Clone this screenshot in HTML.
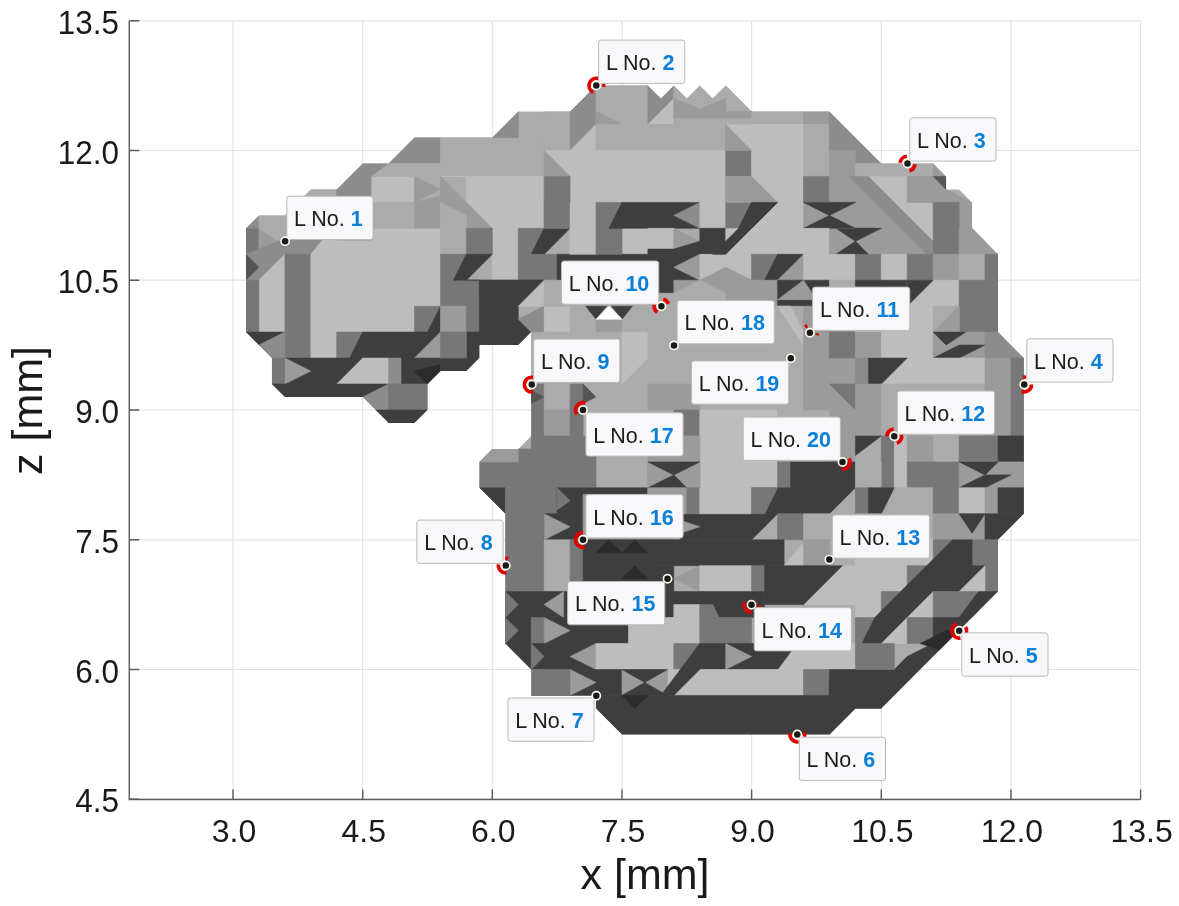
<!DOCTYPE html><html><head><meta charset="utf-8"><style>html,body{margin:0;padding:0;background:#fff}body{width:1179px;height:906px;overflow:hidden}svg{display:block}text{font-family:"Liberation Sans",Arial,Helvetica,sans-serif}</style></head><body>
<svg width="1179" height="906" viewBox="0 0 1179 906">
<rect width="1179" height="906" fill="#fff"/>
<path d="M233.0 20.8V799.5M362.7 20.8V799.5M492.3 20.8V799.5M622.0 20.8V799.5M751.6 20.8V799.5M881.3 20.8V799.5M1011.0 20.8V799.5M1140.6 20.8V799.5M129.3 799.2H1140.6M129.3 669.5H1140.6M129.3 539.8H1140.6M129.3 410.0H1140.6M129.3 280.2H1140.6M129.3 150.5H1140.6M129.3 20.8H1140.6" stroke="#e3e3e3" stroke-width="1.2" fill="none"/>
<defs><clipPath id="bc"><polygon points="246.0,228.3 258.9,215.4 284.9,215.4 310.8,189.4 336.7,189.4 362.7,163.5 388.6,163.5 414.5,137.5 492.3,137.5 518.3,111.6 570.1,111.6 596.0,85.6 647.9,85.6 660.9,98.6 673.8,85.6 686.8,98.6 699.8,85.6 712.7,98.6 725.7,85.6 751.6,111.6 829.4,111.6 881.3,163.5 933.2,163.5 946.1,176.4 946.1,189.4 959.1,189.4 972.1,202.4 972.1,228.3 998.0,254.3 998.0,332.1 1023.9,358.1 1023.9,513.8 998.0,539.8 998.0,591.6 881.3,708.4 855.4,708.4 829.4,734.4 622.0,734.4 596.0,708.4 596.0,695.4 531.2,695.4 531.2,669.5 505.3,643.5 505.3,513.8 479.4,487.8 479.4,461.9 492.3,448.9 518.3,448.9 531.2,435.9 531.2,332.1 518.3,345.1 479.4,345.1 479.4,358.1 466.4,371.1 440.5,371.1 427.5,384.0 427.5,410.0 414.5,423.0 388.6,423.0 362.7,397.0 284.9,397.0 271.9,384.0 271.9,358.1 246.0,332.1"/></clipPath></defs>
<g stroke-width="0.6" stroke-linejoin="round" clip-path="url(#bc)">
<polygon points="246.0,228.3 258.9,215.4 284.9,215.4 310.8,189.4 336.7,189.4 362.7,163.5 388.6,163.5 414.5,137.5 492.3,137.5 518.3,111.6 570.1,111.6 596.0,85.6 647.9,85.6 660.9,98.6 673.8,85.6 686.8,98.6 699.8,85.6 712.7,98.6 725.7,85.6 751.6,111.6 829.4,111.6 881.3,163.5 933.2,163.5 946.1,176.4 946.1,189.4 959.1,189.4 972.1,202.4 972.1,228.3 998.0,254.3 998.0,332.1 1023.9,358.1 1023.9,513.8 998.0,539.8 998.0,591.6 881.3,708.4 855.4,708.4 829.4,734.4 622.0,734.4 596.0,708.4 596.0,695.4 531.2,695.4 531.2,669.5 505.3,643.5 505.3,513.8 479.4,487.8 479.4,461.9 492.3,448.9 518.3,448.9 531.2,435.9 531.2,332.1 518.3,345.1 479.4,345.1 479.4,358.1 466.4,371.1 440.5,371.1 427.5,384.0 427.5,410.0 414.5,423.0 388.6,423.0 362.7,397.0 284.9,397.0 271.9,384.0 271.9,358.1 246.0,332.1" fill="#ababab" stroke="#ababab"/>
<polygon points="246.0,228.3 258.9,228.3 258.9,254.3 246.0,254.3" fill="#777777" stroke="#777777"/>
<polygon points="258.9,228.3 258.9,254.3 278.4,241.3" fill="#9b9b9b" stroke="#9b9b9b"/>
<polygon points="246.0,228.3 258.9,215.4 258.9,228.3" fill="#8c8c8c" stroke="#8c8c8c"/>
<polygon points="258.9,228.3 258.9,215.4 284.9,215.4 284.9,237.4 278.4,241.3" fill="#ababab" stroke="#ababab"/>
<polygon points="246.0,254.3 278.4,241.3 284.9,237.4 322.5,240.0 310.8,254.3 284.9,254.3 258.9,280.2 246.0,280.2" fill="#8c8c8c" stroke="#8c8c8c"/>
<polygon points="246.0,254.3 258.9,267.3 246.0,280.2" fill="#555555" stroke="#555555"/>
<polygon points="258.9,280.2 284.9,254.3 284.9,332.1 258.9,332.1" fill="#bdbdbd" stroke="#bdbdbd"/>
<polygon points="284.9,254.3 310.8,254.3 310.8,358.1 284.9,358.1" fill="#777777" stroke="#777777"/>
<polygon points="246.0,280.2 258.9,280.2 258.9,332.1 246.0,332.1" fill="#777777" stroke="#777777"/>
<polygon points="310.8,254.3 322.5,240.0 371.7,240.0 371.7,228.3 440.5,228.3 440.5,306.2 414.5,306.2 414.5,332.1 310.8,332.1" fill="#bdbdbd" stroke="#bdbdbd"/>
<polygon points="284.9,215.4 310.8,189.4 336.7,189.4 362.7,194.6 284.9,194.6" fill="#ababab" stroke="#ababab"/>
<polygon points="336.7,189.4 362.7,163.5 388.6,163.5 371.7,180.3 371.7,240.0 336.7,240.0" fill="#8c8c8c" stroke="#8c8c8c"/>
<polygon points="371.7,176.4 414.5,176.4 414.5,202.4 371.7,202.4" fill="#bdbdbd" stroke="#bdbdbd"/>
<polygon points="371.7,202.4 414.5,202.4 414.5,228.3 371.7,228.3" fill="#ababab" stroke="#ababab"/>
<polygon points="414.5,176.4 440.5,176.4 440.5,202.4 414.5,202.4" fill="#ababab" stroke="#ababab"/>
<polygon points="414.5,176.4 440.5,189.4 414.5,202.4" fill="#9b9b9b" stroke="#9b9b9b"/>
<polygon points="414.5,202.4 440.5,195.9 440.5,228.3 414.5,228.3" fill="#9b9b9b" stroke="#9b9b9b"/>
<polygon points="388.6,163.5 414.5,137.5 440.5,137.5 440.5,163.5" fill="#8c8c8c" stroke="#8c8c8c"/>
<polygon points="388.6,163.5 440.5,163.5 440.5,176.4 371.7,176.4" fill="#ababab" stroke="#ababab"/>
<polygon points="440.5,137.5 544.2,137.5 544.2,176.4 440.5,176.4" fill="#ababab" stroke="#ababab"/>
<polygon points="440.5,176.4 544.2,176.4 544.2,228.3 518.3,228.3 518.3,280.2 492.3,280.2 492.3,228.3 466.4,228.3 466.4,176.4" fill="#bdbdbd" stroke="#bdbdbd"/>
<polygon points="440.5,176.4 492.3,228.3 466.4,228.3 466.4,215.4 440.5,202.4" fill="#9b9b9b" stroke="#9b9b9b"/>
<polygon points="440.5,202.4 466.4,215.4 466.4,254.3 440.5,254.3" fill="#ababab" stroke="#ababab"/>
<polygon points="466.4,228.3 492.3,228.3 492.3,254.3 466.4,254.3" fill="#777777" stroke="#777777"/>
<polygon points="518.3,228.3 544.2,228.3 544.2,254.3 518.3,254.3" fill="#777777" stroke="#777777"/>
<polygon points="531.2,254.3 544.2,228.3 570.1,228.3 544.2,254.3" fill="#3e3e3e" stroke="#3e3e3e"/>
<polygon points="544.2,176.4 570.1,176.4 570.1,228.3 544.2,228.3" fill="#777777" stroke="#777777"/>
<polygon points="544.2,150.5 570.1,176.4 544.2,176.4" fill="#9b9b9b" stroke="#9b9b9b"/>
<polygon points="570.1,137.5 647.9,137.5 647.9,202.4 596.0,202.4 596.0,254.3 570.1,254.3" fill="#bdbdbd" stroke="#bdbdbd"/>
<polygon points="596.0,202.4 622.0,202.4 622.0,254.3 596.0,254.3" fill="#777777" stroke="#777777"/>
<polygon points="609.0,228.3 622.0,202.4 647.9,202.4 647.9,228.3" fill="#3e3e3e" stroke="#3e3e3e"/>
<polygon points="622.0,228.3 647.9,228.3 647.9,254.3 622.0,254.3" fill="#bdbdbd" stroke="#bdbdbd"/>
<polygon points="440.5,254.3 466.4,254.3 466.4,306.2 440.5,306.2" fill="#777777" stroke="#777777"/>
<polygon points="492.3,254.3 518.3,254.3 518.3,280.2 492.3,280.2" fill="#bdbdbd" stroke="#bdbdbd"/>
<polygon points="453.4,280.2 466.4,254.3 492.3,254.3 466.4,280.2" fill="#3e3e3e" stroke="#3e3e3e"/>
<polygon points="518.3,254.3 557.1,254.3 557.1,280.2 518.3,280.2" fill="#777777" stroke="#777777"/>
<polygon points="557.1,254.3 647.9,254.3 647.9,280.2 557.1,280.2" fill="#3e3e3e" stroke="#3e3e3e"/>
<polygon points="466.4,280.2 544.2,280.2 518.3,306.2 485.8,306.2" fill="#3e3e3e" stroke="#3e3e3e"/>
<polygon points="544.2,111.6 570.1,111.6 570.1,150.5 544.2,150.5" fill="#ababab" stroke="#ababab"/>
<polygon points="570.1,111.6 596.0,85.6 596.0,124.5 570.1,150.5" fill="#8c8c8c" stroke="#8c8c8c"/>
<polygon points="570.1,150.5 596.0,124.5 596.0,150.5" fill="#bdbdbd" stroke="#bdbdbd"/>
<polygon points="596.0,85.6 647.9,85.6 647.9,150.5 596.0,150.5" fill="#ababab" stroke="#ababab"/>
<polygon points="596.0,111.6 622.0,124.5 622.0,137.5 596.0,124.5" fill="#9b9b9b" stroke="#9b9b9b"/>
<polygon points="647.9,85.6 660.9,98.6 673.8,85.6 673.8,98.6 673.8,124.5 647.9,124.5" fill="#8c8c8c" stroke="#8c8c8c"/>
<polygon points="647.9,124.5 673.8,98.6 673.8,124.5" fill="#bdbdbd" stroke="#bdbdbd"/>
<polygon points="673.8,85.6 686.8,98.6 699.8,85.6 712.7,98.6 725.7,85.6 751.6,111.6 751.6,124.5 673.8,124.5" fill="#ababab" stroke="#ababab"/>
<polygon points="673.8,98.6 699.8,109.0 725.7,98.6 725.7,111.6 751.6,111.6 751.6,118.1 673.8,118.1" fill="#9b9b9b" stroke="#9b9b9b"/>
<polygon points="596.0,124.5 751.6,124.5 751.6,150.5 596.0,150.5" fill="#ababab" stroke="#ababab"/>
<polygon points="544.2,150.5 725.7,150.5 725.7,202.4 544.2,202.4" fill="#bdbdbd" stroke="#bdbdbd"/>
<polygon points="544.2,150.5 570.1,176.4 544.2,176.4" fill="#9b9b9b" stroke="#9b9b9b"/>
<polygon points="544.2,176.4 570.1,176.4 570.1,228.3 544.2,228.3" fill="#777777" stroke="#777777"/>
<polygon points="492.3,137.5 518.3,111.6 518.3,137.5" fill="#8c8c8c" stroke="#8c8c8c"/>
<polygon points="570.1,202.4 596.0,202.4 596.0,254.3 570.1,254.3" fill="#bdbdbd" stroke="#bdbdbd"/>
<polygon points="596.0,202.4 622.0,202.4 622.0,254.3 596.0,254.3" fill="#777777" stroke="#777777"/>
<polygon points="609.0,228.3 622.0,202.4 699.8,202.4 699.8,228.3" fill="#3e3e3e" stroke="#3e3e3e"/>
<polygon points="673.8,215.4 699.8,202.4 699.8,228.3" fill="#8c8c8c" stroke="#8c8c8c"/>
<polygon points="699.8,202.4 725.7,202.4 725.7,228.3 699.8,228.3" fill="#bdbdbd" stroke="#bdbdbd"/>
<polygon points="725.7,124.5 751.6,124.5 751.6,150.5 725.7,150.5" fill="#9b9b9b" stroke="#9b9b9b"/>
<polygon points="725.7,150.5 751.6,150.5 751.6,176.4 725.7,176.4" fill="#777777" stroke="#777777"/>
<polygon points="725.7,176.4 751.6,176.4 777.6,202.4 725.7,202.4" fill="#9b9b9b" stroke="#9b9b9b"/>
<polygon points="725.7,202.4 751.6,202.4 751.6,228.3 725.7,228.3" fill="#777777" stroke="#777777"/>
<polygon points="751.6,111.6 803.5,111.6 803.5,124.5 751.6,124.5" fill="#ababab" stroke="#ababab"/>
<polygon points="803.5,111.6 829.4,111.6 829.4,124.5 803.5,124.5" fill="#9b9b9b" stroke="#9b9b9b"/>
<polygon points="751.6,124.5 803.5,124.5 803.5,202.4 751.6,202.4" fill="#bdbdbd" stroke="#bdbdbd"/>
<polygon points="803.5,124.5 829.4,124.5 829.4,150.5 803.5,150.5" fill="#ababab" stroke="#ababab"/>
<polygon points="803.5,150.5 829.4,150.5 829.4,176.4 803.5,176.4" fill="#ababab" stroke="#ababab"/>
<polygon points="803.5,176.4 829.4,176.4 829.4,202.4 803.5,202.4" fill="#777777" stroke="#777777"/>
<polygon points="829.4,111.6 881.3,163.5 855.4,163.5 855.4,176.4 829.4,150.5" fill="#8c8c8c" stroke="#8c8c8c"/>
<polygon points="829.4,150.5 855.4,150.5 855.4,267.3 829.4,267.3" fill="#9b9b9b" stroke="#9b9b9b"/>
<polygon points="855.4,163.5 933.2,163.5 933.2,176.4 855.4,176.4" fill="#ababab" stroke="#ababab"/>
<polygon points="855.4,176.4 933.2,176.4 933.2,254.3 855.4,254.3" fill="#9b9b9b" stroke="#9b9b9b"/>
<polygon points="861.9,176.4 907.2,176.4 907.2,202.4 933.2,202.4 933.2,247.8" fill="#bdbdbd" stroke="#bdbdbd"/>
<polygon points="848.9,176.4 868.3,176.4 946.1,254.3 926.7,254.3" fill="#8c8c8c" stroke="#8c8c8c"/>
<polygon points="907.2,176.4 933.2,176.4 933.2,202.4 907.2,202.4" fill="#9b9b9b" stroke="#9b9b9b"/>
<polygon points="933.2,163.5 946.1,176.4 946.1,189.4 972.1,202.4 972.1,228.3 933.2,228.3" fill="#9b9b9b" stroke="#9b9b9b"/>
<polygon points="933.2,176.4 946.1,176.4 946.1,189.4" fill="#555555" stroke="#555555"/>
<polygon points="933.2,202.4 959.1,202.4 959.1,254.3 933.2,254.3" fill="#777777" stroke="#777777"/>
<polygon points="959.1,228.3 985.0,228.3 985.0,254.3 959.1,254.3" fill="#9b9b9b" stroke="#9b9b9b"/>
<polygon points="972.1,228.3 998.0,254.3 972.1,254.3" fill="#9b9b9b" stroke="#9b9b9b"/>
<polygon points="823.0,202.4 855.4,202.4 835.9,215.4" fill="#3e3e3e" stroke="#3e3e3e"/>
<polygon points="835.9,228.3 874.8,228.3 855.4,241.3" fill="#3e3e3e" stroke="#3e3e3e"/>
<polygon points="835.9,254.3 868.3,254.3 855.4,241.3" fill="#3e3e3e" stroke="#3e3e3e"/>
<polygon points="751.6,202.4 803.5,202.4 803.5,228.3 751.6,228.3" fill="#bdbdbd" stroke="#bdbdbd"/>
<polygon points="738.7,228.3 751.6,202.4 777.6,202.4 725.7,254.3 712.7,254.3" fill="#3e3e3e" stroke="#3e3e3e"/>
<polygon points="803.5,202.4 855.4,202.4 855.4,228.3 803.5,228.3" fill="#9b9b9b" stroke="#9b9b9b"/>
<polygon points="803.5,202.4 855.4,202.4 829.4,215.4" fill="#3e3e3e" stroke="#3e3e3e"/>
<polygon points="803.5,228.3 829.4,215.4 855.4,228.3" fill="#3e3e3e" stroke="#3e3e3e"/>
<polygon points="310.8,332.1 336.7,332.1 336.7,358.1 310.8,358.1" fill="#bdbdbd" stroke="#bdbdbd"/>
<polygon points="246.0,332.1 284.9,332.1 258.9,345.1" fill="#3e3e3e" stroke="#3e3e3e"/>
<polygon points="258.9,345.1 284.9,332.1 284.9,358.1 271.9,358.1" fill="#8c8c8c" stroke="#8c8c8c"/>
<polygon points="271.9,358.1 284.9,358.1 284.9,384.0 271.9,384.0" fill="#777777" stroke="#777777"/>
<polygon points="336.7,332.1 362.7,332.1 362.7,358.1 336.7,358.1" fill="#777777" stroke="#777777"/>
<polygon points="414.5,306.2 440.5,306.2 427.5,332.1 414.5,332.1" fill="#777777" stroke="#777777"/>
<polygon points="349.7,358.1 362.7,332.1 427.5,332.1 440.5,306.2 440.5,332.1 414.5,358.1" fill="#3e3e3e" stroke="#3e3e3e"/>
<polygon points="414.5,358.1 440.5,332.1 440.5,358.1" fill="#9b9b9b" stroke="#9b9b9b"/>
<polygon points="284.9,358.1 362.7,358.1 388.6,384.0 284.9,384.0" fill="#3e3e3e" stroke="#3e3e3e"/>
<polygon points="284.9,358.1 284.9,384.0 310.8,371.1" fill="#9b9b9b" stroke="#9b9b9b"/>
<polygon points="336.7,384.0 362.7,358.1 388.6,358.1 388.6,384.0" fill="#bdbdbd" stroke="#bdbdbd"/>
<polygon points="388.6,358.1 401.6,358.1 401.6,384.0 388.6,384.0" fill="#8c8c8c" stroke="#8c8c8c"/>
<polygon points="401.6,358.1 440.5,358.1 440.5,384.0 401.6,384.0" fill="#3e3e3e" stroke="#3e3e3e"/>
<polygon points="414.5,371.1 440.5,364.6 440.5,384.0 427.5,384.0" fill="#2c2c2c" stroke="#2c2c2c"/>
<polygon points="440.5,306.2 466.4,306.2 466.4,332.1 440.5,332.1" fill="#9b9b9b" stroke="#9b9b9b"/>
<polygon points="466.4,280.2 479.4,280.2 479.4,332.1 466.4,332.1" fill="#777777" stroke="#777777"/>
<polygon points="466.4,280.2 544.2,280.2 518.3,306.2 518.3,319.2 531.2,332.1 518.3,345.1 479.4,345.1 479.4,358.1 466.4,371.1 440.5,371.1 440.5,358.1 466.4,358.1 466.4,332.1 479.4,332.1 479.4,280.2" fill="#3e3e3e" stroke="#3e3e3e"/>
<polygon points="440.5,332.1 466.4,332.1 466.4,358.1 440.5,358.1" fill="#777777" stroke="#777777"/>
<polygon points="518.3,306.2 544.2,280.2 544.2,306.2" fill="#bdbdbd" stroke="#bdbdbd"/>
<polygon points="518.3,319.2 544.2,306.2 544.2,332.1 531.2,332.1" fill="#8c8c8c" stroke="#8c8c8c"/>
<polygon points="544.2,306.2 570.1,306.2 570.1,332.1 544.2,332.1" fill="#bdbdbd" stroke="#bdbdbd"/>
<polygon points="544.2,280.2 570.1,280.2 570.1,306.2 544.2,306.2" fill="#ababab" stroke="#ababab"/>
<polygon points="570.1,280.2 596.0,280.2 596.0,332.1 570.1,332.1" fill="#ababab" stroke="#ababab"/>
<polygon points="596.0,319.2 622.0,319.2 622.0,332.1 596.0,332.1" fill="#9b9b9b" stroke="#9b9b9b"/>
<polygon points="622.0,280.2 647.9,280.2 647.9,332.1 622.0,332.1" fill="#ababab" stroke="#ababab"/>
<polygon points="585.7,306.2 606.4,306.2 596.0,319.2" fill="#3e3e3e" stroke="#3e3e3e"/>
<polygon points="611.6,306.2 632.4,306.2 622.0,319.2" fill="#3e3e3e" stroke="#3e3e3e"/>
<polygon points="596.0,319.2 622.0,319.2 609.0,306.2" fill="#ffffff" stroke="#ffffff"/>
<polygon points="531.2,332.1 647.9,332.1 647.9,384.0 531.2,384.0" fill="#ababab" stroke="#ababab"/>
<polygon points="622.0,332.1 647.9,332.1 647.9,358.1 622.0,384.0" fill="#bdbdbd" stroke="#bdbdbd"/>
<polygon points="647.9,228.3 673.8,228.3 673.8,254.3 647.9,254.3" fill="#bdbdbd" stroke="#bdbdbd"/>
<polygon points="673.8,228.3 673.8,254.3 699.8,241.3" fill="#9b9b9b" stroke="#9b9b9b"/>
<polygon points="647.9,254.3 725.7,254.3 751.6,228.3 699.8,228.3 699.8,241.3 673.8,249.1 647.9,249.1" fill="#3e3e3e" stroke="#3e3e3e"/>
<polygon points="725.7,228.3 777.6,228.3 777.6,254.3 725.7,254.3" fill="#bdbdbd" stroke="#bdbdbd"/>
<polygon points="777.6,228.3 829.4,228.3 829.4,254.3 777.6,254.3" fill="#bdbdbd" stroke="#bdbdbd"/>
<polygon points="829.4,228.3 829.4,254.3 848.9,241.3" fill="#9b9b9b" stroke="#9b9b9b"/>
<polygon points="842.4,254.3 855.4,246.5 855.4,254.3" fill="#3e3e3e" stroke="#3e3e3e"/>
<polygon points="647.9,254.3 699.8,254.3 699.8,293.2 647.9,293.2" fill="#3e3e3e" stroke="#3e3e3e"/>
<polygon points="673.8,267.3 699.8,254.3 699.8,280.2" fill="#9b9b9b" stroke="#9b9b9b"/>
<polygon points="699.8,254.3 751.6,254.3 751.6,280.2 699.8,280.2" fill="#bdbdbd" stroke="#bdbdbd"/>
<polygon points="699.8,280.2 725.7,267.3 751.6,280.2" fill="#9b9b9b" stroke="#9b9b9b"/>
<polygon points="751.6,254.3 777.6,254.3 777.6,280.2 751.6,280.2" fill="#777777" stroke="#777777"/>
<polygon points="764.6,280.2 777.6,254.3 803.5,254.3 790.5,280.2" fill="#3e3e3e" stroke="#3e3e3e"/>
<polygon points="777.6,280.2 803.5,254.3 803.5,280.2" fill="#9b9b9b" stroke="#9b9b9b"/>
<polygon points="803.5,254.3 855.4,254.3 855.4,280.2 803.5,280.2" fill="#bdbdbd" stroke="#bdbdbd"/>
<polygon points="647.9,293.2 673.8,293.2 673.8,384.0 647.9,384.0" fill="#ababab" stroke="#ababab"/>
<polygon points="673.8,280.2 777.6,280.2 777.6,306.2 673.8,306.2" fill="#9b9b9b" stroke="#9b9b9b"/>
<polygon points="673.8,293.2 699.8,280.2 725.7,293.2 725.7,306.2 673.8,306.2" fill="#ababab" stroke="#ababab"/>
<polygon points="777.6,280.2 829.4,280.2 829.4,306.2 777.6,306.2" fill="#3e3e3e" stroke="#3e3e3e"/>
<polygon points="777.6,299.7 803.5,280.2 816.5,299.7" fill="#9b9b9b" stroke="#9b9b9b"/>
<polygon points="829.4,280.2 855.4,280.2 855.4,306.2 829.4,306.2" fill="#ababab" stroke="#ababab"/>
<polygon points="673.8,306.2 777.6,306.2 777.6,384.0 673.8,384.0" fill="#ababab" stroke="#ababab"/>
<polygon points="777.6,306.2 803.5,306.2 803.5,384.0 777.6,384.0" fill="#ababab" stroke="#ababab"/>
<polygon points="777.6,306.2 790.5,306.2 803.5,332.1 803.5,345.1" fill="#bdbdbd" stroke="#bdbdbd"/>
<polygon points="803.5,306.2 855.4,306.2 855.4,384.0 803.5,384.0" fill="#9b9b9b" stroke="#9b9b9b"/>
<polygon points="829.4,332.1 855.4,332.1 855.4,358.1 829.4,358.1" fill="#777777" stroke="#777777"/>
<polygon points="855.4,228.3 881.3,228.3 855.4,241.3" fill="#3e3e3e" stroke="#3e3e3e"/>
<polygon points="855.4,241.3 868.3,254.3 855.4,254.3" fill="#3e3e3e" stroke="#3e3e3e"/>
<polygon points="855.4,254.3 881.3,254.3 881.3,280.2 855.4,280.2" fill="#777777" stroke="#777777"/>
<polygon points="881.3,254.3 907.2,254.3 907.2,280.2 881.3,280.2" fill="#bdbdbd" stroke="#bdbdbd"/>
<polygon points="907.2,254.3 933.2,254.3 933.2,280.2 907.2,280.2" fill="#777777" stroke="#777777"/>
<polygon points="933.2,254.3 959.1,254.3 959.1,280.2 933.2,280.2" fill="#9b9b9b" stroke="#9b9b9b"/>
<polygon points="959.1,254.3 985.0,254.3 985.0,280.2 959.1,280.2" fill="#ababab" stroke="#ababab"/>
<polygon points="985.0,254.3 998.0,254.3 998.0,332.1 985.0,332.1" fill="#777777" stroke="#777777"/>
<polygon points="855.4,280.2 933.2,280.2 907.2,306.2 855.4,306.2" fill="#3e3e3e" stroke="#3e3e3e"/>
<polygon points="907.2,280.2 959.1,280.2 959.1,306.2 907.2,306.2" fill="#bdbdbd" stroke="#bdbdbd"/>
<polygon points="959.1,280.2 985.0,280.2 985.0,332.1 959.1,332.1" fill="#777777" stroke="#777777"/>
<polygon points="855.4,306.2 933.2,306.2 933.2,332.1 855.4,332.1" fill="#bdbdbd" stroke="#bdbdbd"/>
<polygon points="933.2,306.2 959.1,306.2 959.1,332.1 933.2,332.1" fill="#ababab" stroke="#ababab"/>
<polygon points="933.2,332.1 959.1,306.2 959.1,332.1" fill="#9b9b9b" stroke="#9b9b9b"/>
<polygon points="855.4,332.1 881.3,332.1 881.3,358.1 855.4,358.1" fill="#9b9b9b" stroke="#9b9b9b"/>
<polygon points="881.3,332.1 933.2,332.1 933.2,358.1 881.3,358.1" fill="#bdbdbd" stroke="#bdbdbd"/>
<polygon points="933.2,332.1 985.0,332.1 985.0,358.1 933.2,358.1" fill="#9b9b9b" stroke="#9b9b9b"/>
<polygon points="933.2,332.1 965.6,332.1 946.1,345.1" fill="#3e3e3e" stroke="#3e3e3e"/>
<polygon points="933.2,358.1 959.1,345.1 985.0,345.1 959.1,358.1" fill="#3e3e3e" stroke="#3e3e3e"/>
<polygon points="985.0,332.1 998.0,332.1 1023.9,358.1 985.0,358.1" fill="#8c8c8c" stroke="#8c8c8c"/>
<polygon points="855.4,358.1 868.3,358.1 868.3,384.0 855.4,384.0" fill="#8c8c8c" stroke="#8c8c8c"/>
<polygon points="868.3,358.1 985.0,358.1 985.0,384.0 868.3,384.0" fill="#bdbdbd" stroke="#bdbdbd"/>
<polygon points="868.3,358.1 907.2,358.1 881.3,384.0 868.3,384.0" fill="#3e3e3e" stroke="#3e3e3e"/>
<polygon points="985.0,358.1 1011.0,358.1 1011.0,384.0 985.0,384.0" fill="#9b9b9b" stroke="#9b9b9b"/>
<polygon points="1011.0,358.1 1023.9,358.1 1023.9,384.0 1011.0,384.0" fill="#777777" stroke="#777777"/>
<polygon points="271.9,384.0 388.6,384.0 375.6,397.0 362.7,397.0 284.9,397.0" fill="#3e3e3e" stroke="#3e3e3e"/>
<polygon points="362.7,397.0 388.6,384.0 388.6,410.0 375.6,410.0" fill="#8c8c8c" stroke="#8c8c8c"/>
<polygon points="388.6,384.0 427.5,384.0 427.5,410.0 388.6,410.0" fill="#777777" stroke="#777777"/>
<polygon points="375.6,410.0 427.5,410.0 414.5,423.0 388.6,423.0" fill="#3e3e3e" stroke="#3e3e3e"/>
<polygon points="531.2,384.0 544.2,384.0 544.2,435.9 531.2,435.9" fill="#777777" stroke="#777777"/>
<polygon points="531.2,390.5 544.2,397.0 531.2,403.5" fill="#555555" stroke="#555555"/>
<polygon points="544.2,384.0 570.1,384.0 570.1,410.0 544.2,410.0" fill="#ababab" stroke="#ababab"/>
<polygon points="544.2,410.0 570.1,410.0 570.1,435.9 544.2,435.9" fill="#9b9b9b" stroke="#9b9b9b"/>
<polygon points="570.1,384.0 583.1,384.0 583.1,435.9 570.1,435.9" fill="#777777" stroke="#777777"/>
<polygon points="583.1,384.0 596.0,397.0 583.1,403.5" fill="#555555" stroke="#555555"/>
<polygon points="596.0,384.0 647.9,384.0 647.9,487.8 596.0,487.8" fill="#ababab" stroke="#ababab"/>
<polygon points="479.4,461.9 492.3,448.9 531.2,448.9 531.2,435.9 596.0,435.9 596.0,487.8 479.4,487.8" fill="#777777" stroke="#777777"/>
<polygon points="479.4,461.9 492.3,448.9 518.3,448.9 518.3,461.9" fill="#9b9b9b" stroke="#9b9b9b"/>
<polygon points="479.4,487.8 505.3,487.8 505.3,513.8" fill="#3e3e3e" stroke="#3e3e3e"/>
<polygon points="505.3,487.8 557.1,487.8 557.1,539.8 505.3,539.8" fill="#777777" stroke="#777777"/>
<polygon points="557.1,487.8 583.1,487.8 583.1,539.8 557.1,539.8" fill="#3e3e3e" stroke="#3e3e3e"/>
<polygon points="557.1,487.8 557.1,509.9 570.1,500.8" fill="#777777" stroke="#777777"/>
<polygon points="583.1,487.8 647.9,487.8 647.9,494.3 583.1,494.3" fill="#3e3e3e" stroke="#3e3e3e"/>
<polygon points="544.2,513.8 557.1,513.8 557.1,539.8 544.2,539.8" fill="#3e3e3e" stroke="#3e3e3e"/>
<polygon points="544.2,513.8 544.2,539.8 570.1,526.8" fill="#9b9b9b" stroke="#9b9b9b"/>
<polygon points="583.1,494.3 647.9,494.3 647.9,539.8 583.1,539.8" fill="#9b9b9b" stroke="#9b9b9b"/>
<polygon points="647.9,384.0 699.8,384.0 699.8,410.0 647.9,410.0" fill="#9b9b9b" stroke="#9b9b9b"/>
<polygon points="673.8,410.0 699.8,410.0 699.8,435.9 673.8,435.9" fill="#777777" stroke="#777777"/>
<polygon points="699.8,410.0 777.6,410.0 777.6,487.8 699.8,487.8" fill="#bdbdbd" stroke="#bdbdbd"/>
<polygon points="777.6,410.0 829.4,410.0 829.4,461.9 777.6,461.9" fill="#ababab" stroke="#ababab"/>
<polygon points="803.5,384.0 855.4,384.0 855.4,410.0 803.5,410.0" fill="#9b9b9b" stroke="#9b9b9b"/>
<polygon points="829.4,384.0 855.4,384.0 855.4,410.0" fill="#777777" stroke="#777777"/>
<polygon points="647.9,435.9 673.8,435.9 673.8,539.8 647.9,539.8" fill="#9b9b9b" stroke="#9b9b9b"/>
<polygon points="673.8,435.9 699.8,435.9 699.8,487.8 673.8,487.8" fill="#9b9b9b" stroke="#9b9b9b"/>
<polygon points="647.9,461.9 699.8,461.9 699.8,487.8 647.9,487.8" fill="#9b9b9b" stroke="#9b9b9b"/>
<polygon points="647.9,461.9 699.8,461.9 673.8,474.9" fill="#3e3e3e" stroke="#3e3e3e"/>
<polygon points="647.9,487.8 686.8,487.8 673.8,474.9" fill="#3e3e3e" stroke="#3e3e3e"/>
<polygon points="829.4,410.0 855.4,410.0 855.4,461.9 829.4,461.9" fill="#9b9b9b" stroke="#9b9b9b"/>
<polygon points="777.6,461.9 790.5,461.9 790.5,487.8 777.6,487.8" fill="#777777" stroke="#777777"/>
<polygon points="751.6,487.8 777.6,487.8 764.6,513.8 751.6,513.8" fill="#777777" stroke="#777777"/>
<polygon points="790.5,461.9 855.4,461.9 855.4,487.8 829.4,513.8 777.6,513.8 751.6,539.8 680.3,539.8 680.3,513.8 764.6,513.8 777.6,487.8 790.5,487.8" fill="#3e3e3e" stroke="#3e3e3e"/>
<polygon points="680.3,520.3 680.3,533.3 699.8,526.8" fill="#9b9b9b" stroke="#9b9b9b"/>
<polygon points="777.6,513.8 803.5,513.8 803.5,539.8 777.6,539.8" fill="#777777" stroke="#777777"/>
<polygon points="803.5,513.8 829.4,513.8 829.4,539.8 803.5,539.8" fill="#ababab" stroke="#ababab"/>
<polygon points="829.4,513.8 855.4,513.8 855.4,539.8 829.4,539.8" fill="#ababab" stroke="#ababab"/>
<polygon points="855.4,384.0 881.3,384.0 881.3,435.9 855.4,435.9" fill="#9b9b9b" stroke="#9b9b9b"/>
<polygon points="881.3,384.0 907.2,384.0 907.2,435.9 881.3,435.9" fill="#ababab" stroke="#ababab"/>
<polygon points="907.2,384.0 985.0,384.0 985.0,435.9 907.2,435.9" fill="#ababab" stroke="#ababab"/>
<polygon points="985.0,384.0 1011.0,384.0 1011.0,435.9 985.0,435.9" fill="#9b9b9b" stroke="#9b9b9b"/>
<polygon points="1011.0,384.0 1023.9,384.0 1023.9,435.9 1011.0,435.9" fill="#777777" stroke="#777777"/>
<polygon points="855.4,435.9 881.3,435.9 881.3,461.9 855.4,461.9" fill="#ababab" stroke="#ababab"/>
<polygon points="855.4,435.9 881.3,435.9 855.4,455.4" fill="#3e3e3e" stroke="#3e3e3e"/>
<polygon points="881.3,435.9 894.3,435.9 894.3,487.8 881.3,487.8" fill="#777777" stroke="#777777"/>
<polygon points="894.3,435.9 907.2,435.9 907.2,487.8 894.3,487.8" fill="#bdbdbd" stroke="#bdbdbd"/>
<polygon points="907.2,435.9 933.2,435.9 933.2,461.9 907.2,461.9" fill="#9b9b9b" stroke="#9b9b9b"/>
<polygon points="933.2,435.9 959.1,435.9 959.1,461.9 933.2,461.9" fill="#ababab" stroke="#ababab"/>
<polygon points="959.1,435.9 998.0,435.9 998.0,461.9 959.1,461.9" fill="#777777" stroke="#777777"/>
<polygon points="998.0,435.9 1023.9,435.9 1023.9,461.9 998.0,461.9" fill="#3e3e3e" stroke="#3e3e3e"/>
<polygon points="855.4,461.9 881.3,461.9 881.3,487.8 855.4,487.8" fill="#ababab" stroke="#ababab"/>
<polygon points="907.2,461.9 959.1,461.9 959.1,487.8 907.2,487.8" fill="#777777" stroke="#777777"/>
<polygon points="959.1,461.9 1023.9,461.9 1023.9,487.8 959.1,487.8" fill="#9b9b9b" stroke="#9b9b9b"/>
<polygon points="959.1,461.9 998.0,461.9 985.0,474.9" fill="#3e3e3e" stroke="#3e3e3e"/>
<polygon points="959.1,487.8 985.0,474.9 1011.0,474.9 985.0,487.8" fill="#3e3e3e" stroke="#3e3e3e"/>
<polygon points="855.4,487.8 868.3,487.8 868.3,513.8 855.4,513.8" fill="#777777" stroke="#777777"/>
<polygon points="868.3,487.8 894.3,487.8 881.3,513.8 868.3,513.8" fill="#3e3e3e" stroke="#3e3e3e"/>
<polygon points="894.3,487.8 933.2,487.8 933.2,513.8 894.3,513.8" fill="#ababab" stroke="#ababab"/>
<polygon points="933.2,487.8 959.1,487.8 959.1,513.8 933.2,513.8" fill="#777777" stroke="#777777"/>
<polygon points="959.1,487.8 985.0,487.8 985.0,513.8 959.1,513.8" fill="#bdbdbd" stroke="#bdbdbd"/>
<polygon points="985.0,487.8 998.0,487.8 998.0,513.8 985.0,513.8" fill="#9b9b9b" stroke="#9b9b9b"/>
<polygon points="998.0,487.8 1023.9,487.8 1023.9,513.8 998.0,513.8" fill="#3e3e3e" stroke="#3e3e3e"/>
<polygon points="855.4,513.8 933.2,513.8 933.2,539.8 855.4,539.8" fill="#ababab" stroke="#ababab"/>
<polygon points="933.2,513.8 985.0,513.8 985.0,539.8 933.2,539.8" fill="#9b9b9b" stroke="#9b9b9b"/>
<polygon points="959.1,513.8 985.0,513.8 972.1,533.3" fill="#3e3e3e" stroke="#3e3e3e"/>
<polygon points="985.0,513.8 1023.9,513.8 998.0,539.8 985.0,539.8" fill="#3e3e3e" stroke="#3e3e3e"/>
<polygon points="505.3,539.8 544.2,539.8 544.2,591.6 505.3,591.6" fill="#777777" stroke="#777777"/>
<polygon points="544.2,539.8 570.1,539.8 570.1,591.6 544.2,591.6" fill="#ababab" stroke="#ababab"/>
<polygon points="570.1,539.8 583.1,539.8 583.1,591.6 570.1,591.6" fill="#777777" stroke="#777777"/>
<polygon points="583.1,539.8 647.9,539.8 647.9,591.6 583.1,591.6" fill="#3e3e3e" stroke="#3e3e3e"/>
<polygon points="596.0,552.7 609.0,539.8 622.0,552.7" fill="#2c2c2c" stroke="#2c2c2c"/>
<polygon points="622.0,552.7 634.9,539.8 647.9,552.7" fill="#2c2c2c" stroke="#2c2c2c"/>
<polygon points="622.0,578.7 634.9,565.7 647.9,578.7" fill="#2c2c2c" stroke="#2c2c2c"/>
<polygon points="505.3,591.6 570.1,591.6 570.1,617.6 505.3,617.6" fill="#3e3e3e" stroke="#3e3e3e"/>
<polygon points="505.3,591.6 518.3,604.6 505.3,617.6" fill="#777777" stroke="#777777"/>
<polygon points="544.2,604.6 563.6,591.6 563.6,617.6" fill="#9b9b9b" stroke="#9b9b9b"/>
<polygon points="570.1,591.6 647.9,591.6 647.9,617.6 570.1,617.6" fill="#ababab" stroke="#ababab"/>
<polygon points="647.9,539.8 784.1,539.8 784.1,565.7 647.9,565.7" fill="#3e3e3e" stroke="#3e3e3e"/>
<polygon points="784.1,565.7 803.5,542.3 803.5,565.7" fill="#bdbdbd" stroke="#bdbdbd"/>
<polygon points="803.5,539.8 829.4,539.8 829.4,565.7 803.5,565.7" fill="#9b9b9b" stroke="#9b9b9b"/>
<polygon points="647.9,565.7 673.8,565.7 673.8,591.6 647.9,591.6" fill="#3e3e3e" stroke="#3e3e3e"/>
<polygon points="673.8,578.7 699.8,565.7 699.8,591.6" fill="#9b9b9b" stroke="#9b9b9b"/>
<polygon points="699.8,565.7 751.6,565.7 751.6,591.6 699.8,591.6" fill="#bdbdbd" stroke="#bdbdbd"/>
<polygon points="751.6,565.7 764.6,565.7 764.6,591.6 751.6,591.6" fill="#777777" stroke="#777777"/>
<polygon points="803.5,604.6 835.9,565.7 855.4,565.7 855.4,604.6" fill="#bdbdbd" stroke="#bdbdbd"/>
<polygon points="764.6,565.7 842.4,565.7 803.5,604.6 764.6,604.6" fill="#3e3e3e" stroke="#3e3e3e"/>
<polygon points="647.9,591.6 764.6,591.6 764.6,617.6 647.9,617.6" fill="#3e3e3e" stroke="#3e3e3e"/>
<polygon points="647.9,617.6 699.8,617.6 699.8,624.1 647.9,624.1" fill="#bdbdbd" stroke="#bdbdbd"/>
<polygon points="699.8,617.6 751.6,617.6 751.6,624.1 699.8,624.1" fill="#777777" stroke="#777777"/>
<polygon points="505.3,617.6 634.9,617.6 634.9,643.5 505.3,643.5" fill="#3e3e3e" stroke="#3e3e3e"/>
<polygon points="505.3,617.6 518.3,630.6 505.3,643.5" fill="#777777" stroke="#777777"/>
<polygon points="531.2,617.6 544.2,617.6 544.2,643.5 531.2,643.5" fill="#777777" stroke="#777777"/>
<polygon points="544.2,617.6 544.2,643.5 570.1,630.6" fill="#9b9b9b" stroke="#9b9b9b"/>
<polygon points="628.5,624.1 699.8,624.1 699.8,643.5 628.5,643.5" fill="#bdbdbd" stroke="#bdbdbd"/>
<polygon points="699.8,624.1 751.6,624.1 751.6,643.5 699.8,643.5" fill="#777777" stroke="#777777"/>
<polygon points="505.3,643.5 596.0,643.5 596.0,669.5 505.3,669.5" fill="#3e3e3e" stroke="#3e3e3e"/>
<polygon points="531.2,643.5 544.2,656.5 531.2,669.5" fill="#777777" stroke="#777777"/>
<polygon points="596.0,643.5 596.0,669.5 570.1,656.5" fill="#9b9b9b" stroke="#9b9b9b"/>
<polygon points="596.0,643.5 673.8,643.5 673.8,669.5 596.0,669.5" fill="#bdbdbd" stroke="#bdbdbd"/>
<polygon points="673.8,643.5 699.8,643.5 699.8,669.5 673.8,669.5" fill="#777777" stroke="#777777"/>
<polygon points="777.6,643.5 855.4,643.5 855.4,669.5 777.6,669.5" fill="#bdbdbd" stroke="#bdbdbd"/>
<polygon points="725.7,643.5 797.0,643.5 777.6,669.5 699.8,669.5" fill="#3e3e3e" stroke="#3e3e3e"/>
<polygon points="725.7,643.5 725.7,669.5 751.6,656.5" fill="#9b9b9b" stroke="#9b9b9b"/>
<polygon points="531.2,669.5 570.1,669.5 570.1,695.4 531.2,695.4" fill="#777777" stroke="#777777"/>
<polygon points="570.1,669.5 622.0,669.5 622.0,695.4 570.1,695.4" fill="#3e3e3e" stroke="#3e3e3e"/>
<polygon points="570.1,669.5 570.1,695.4 596.0,682.5" fill="#9b9b9b" stroke="#9b9b9b"/>
<polygon points="647.9,669.5 803.5,669.5 803.5,695.4 647.9,695.4" fill="#bdbdbd" stroke="#bdbdbd"/>
<polygon points="622.0,669.5 667.4,669.5 667.4,695.4 622.0,695.4" fill="#9b9b9b" stroke="#9b9b9b"/>
<polygon points="622.0,669.5 667.4,669.5 644.7,682.5" fill="#3e3e3e" stroke="#3e3e3e"/>
<polygon points="622.0,695.4 667.4,695.4 644.7,682.5" fill="#3e3e3e" stroke="#3e3e3e"/>
<polygon points="699.8,643.5 725.7,643.5 673.8,695.4 660.9,695.4" fill="#3e3e3e" stroke="#3e3e3e"/>
<polygon points="803.5,669.5 829.4,669.5 829.4,695.4 803.5,695.4" fill="#777777" stroke="#777777"/>
<polygon points="829.4,669.5 855.4,669.5 855.4,695.4 829.4,695.4" fill="#3e3e3e" stroke="#3e3e3e"/>
<polygon points="531.2,695.4 881.3,695.4 881.3,734.4 531.2,734.4" fill="#3e3e3e" stroke="#3e3e3e"/>
<polygon points="622.0,695.4 647.9,695.4 634.9,708.4" fill="#2c2c2c" stroke="#2c2c2c"/>
<polygon points="855.4,539.8 933.2,539.8 933.2,565.7 855.4,565.7" fill="#bdbdbd" stroke="#bdbdbd"/>
<polygon points="855.4,565.7 907.2,565.7 907.2,591.6 855.4,591.6" fill="#bdbdbd" stroke="#bdbdbd"/>
<polygon points="855.4,591.6 881.3,591.6 881.3,617.6 855.4,617.6" fill="#bdbdbd" stroke="#bdbdbd"/>
<polygon points="933.2,539.8 952.6,539.8 952.6,565.7 933.2,565.7" fill="#777777" stroke="#777777"/>
<polygon points="907.2,565.7 926.7,565.7 926.7,591.6 907.2,591.6" fill="#777777" stroke="#777777"/>
<polygon points="881.3,591.6 900.7,591.6 900.7,617.6 881.3,617.6" fill="#777777" stroke="#777777"/>
<polygon points="855.4,617.6 874.8,617.6 874.8,643.5 855.4,643.5" fill="#777777" stroke="#777777"/>
<polygon points="972.1,539.8 998.0,539.8 998.0,565.7 972.1,565.7" fill="#777777" stroke="#777777"/>
<polygon points="985.0,565.7 998.0,565.7 998.0,591.6 985.0,591.6" fill="#777777" stroke="#777777"/>
<polygon points="952.6,539.8 972.1,539.8 972.1,565.7 985.0,565.7 959.1,591.6 933.2,591.6 881.3,643.5 861.9,643.5 874.8,617.6 900.7,591.6 926.7,565.7" fill="#3e3e3e" stroke="#3e3e3e"/>
<polygon points="959.1,591.6 985.0,565.7 985.0,591.6" fill="#bdbdbd" stroke="#bdbdbd"/>
<polygon points="907.2,617.6 933.2,591.6 933.2,617.6" fill="#bdbdbd" stroke="#bdbdbd"/>
<polygon points="881.3,643.5 907.2,617.6 907.2,643.5" fill="#bdbdbd" stroke="#bdbdbd"/>
<polygon points="933.2,591.6 978.5,591.6 978.5,617.6 933.2,617.6" fill="#777777" stroke="#777777"/>
<polygon points="907.2,617.6 933.2,617.6 933.2,643.5 907.2,643.5" fill="#777777" stroke="#777777"/>
<polygon points="978.5,591.6 998.0,591.6 881.3,708.4 855.4,708.4 829.4,734.4 829.4,682.5 855.4,669.5 894.3,669.5 907.2,656.5 933.2,643.5 933.2,617.6 959.1,617.6" fill="#3e3e3e" stroke="#3e3e3e"/>
<polygon points="855.4,643.5 894.3,643.5 894.3,669.5 855.4,669.5" fill="#777777" stroke="#777777"/>
<polygon points="920.2,643.5 946.1,630.6 959.1,630.6 939.6,650.0" fill="#2c2c2c" stroke="#2c2c2c"/>
<polygon points="725.7,176.4 751.6,176.4 777.6,202.4 725.7,202.4" fill="#9b9b9b" stroke="#9b9b9b"/>
<polygon points="738.7,228.3 751.6,202.4 777.6,202.4 725.7,254.3 712.7,254.3" fill="#3e3e3e" stroke="#3e3e3e"/>
<polygon points="647.9,487.8 686.8,487.8 686.8,513.8 647.9,513.8" fill="#9b9b9b" stroke="#9b9b9b"/>
<polygon points="686.8,487.8 699.8,487.8 699.8,513.8 686.8,513.8" fill="#777777" stroke="#777777"/>
<polygon points="699.8,487.8 751.6,487.8 751.6,513.8 699.8,513.8" fill="#bdbdbd" stroke="#bdbdbd"/>
<polygon points="751.6,487.8 777.6,487.8 764.6,513.8 751.6,513.8" fill="#777777" stroke="#777777"/>
<polygon points="673.8,604.6 699.8,604.6 699.8,617.6 673.8,617.6" fill="#bdbdbd" stroke="#bdbdbd"/>
<polygon points="699.8,604.6 712.7,604.6 719.2,617.6 699.8,617.6" fill="#777777" stroke="#777777"/>
<polygon points="725.7,124.5 751.6,124.5 751.6,150.5" fill="#bdbdbd" stroke="#bdbdbd"/>
<polygon points="725.7,124.5 751.6,150.5 725.7,150.5" fill="#9b9b9b" stroke="#9b9b9b"/>
<polygon points="907.2,280.2 933.2,280.2 907.2,306.2" fill="#3e3e3e" stroke="#3e3e3e"/>
</g>
<path d="M600.00 79.19A7.4 7.4 0 1 0 593.17 92.31" fill="none" stroke="#e00000" stroke-width="3.6"/>
<path d="M603.59 86.88A7.4 7.4 0 0 0 603.45 83.68" fill="none" stroke="#e00000" stroke-width="3.6"/>
<path d="M906.86 156.23A7.4 7.4 0 0 0 900.13 162.96" fill="none" stroke="#e00000" stroke-width="3.6"/>
<path d="M909.42 170.75A7.4 7.4 0 0 0 914.87 164.24" fill="none" stroke="#e00000" stroke-width="3.6"/>
<path d="M1021.67 391.45A7.4 7.4 0 0 0 1031.60 384.50" fill="none" stroke="#e00000" stroke-width="3.6"/>
<path d="M1026.12 377.35A7.4 7.4 0 0 0 1022.92 377.21" fill="none" stroke="#e00000" stroke-width="3.6"/>
<path d="M956.67 623.75A7.4 7.4 0 0 0 960.48 637.99" fill="none" stroke="#e00000" stroke-width="3.6"/>
<path d="M963.96 636.37A7.4 7.4 0 0 0 965.61 627.00" fill="none" stroke="#e00000" stroke-width="3.6"/>
<path d="M790.01 733.12A7.4 7.4 0 0 0 798.58 741.69" fill="none" stroke="#e00000" stroke-width="3.6"/>
<path d="M804.25 736.93A7.4 7.4 0 0 0 804.45 732.48" fill="none" stroke="#e00000" stroke-width="3.6"/>
<path d="M498.51 564.32A7.4 7.4 0 0 0 506.44 572.97" fill="none" stroke="#e00000" stroke-width="3.6"/>
<path d="M508.33 558.65A7.4 7.4 0 0 0 505.16 558.23" fill="none" stroke="#e00000" stroke-width="3.6"/>
<path d="M533.08 377.31A7.4 7.4 0 1 0 533.08 391.89" fill="none" stroke="#e00000" stroke-width="3.6"/>
<path d="M655.73 301.54A7.4 7.4 0 0 0 657.16 312.36" fill="none" stroke="#e00000" stroke-width="3.6"/>
<path d="M668.35 303.77A7.4 7.4 0 0 0 663.32 299.15" fill="none" stroke="#e00000" stroke-width="3.6"/>
<path d="M807.37 325.75A7.4 7.4 0 0 0 805.14 327.03" fill="none" stroke="#e00000" stroke-width="3.6"/>
<path d="M816.85 335.23A7.4 7.4 0 0 0 817.27 333.34" fill="none" stroke="#e00000" stroke-width="3.6"/>
<path d="M893.66 428.93A7.4 7.4 0 0 0 886.90 436.30" fill="none" stroke="#e00000" stroke-width="3.6"/>
<path d="M896.83 443.25A7.4 7.4 0 0 0 901.25 433.77" fill="none" stroke="#e00000" stroke-width="3.6"/>
<path d="M744.55 602.17A7.4 7.4 0 0 0 751.50 612.10" fill="none" stroke="#e00000" stroke-width="3.6"/>
<path d="M758.45 607.23A7.4 7.4 0 0 0 758.90 604.70" fill="none" stroke="#e00000" stroke-width="3.6"/>
<path d="M583.00 532.40A7.4 7.4 0 1 0 584.92 546.95" fill="none" stroke="#e00000" stroke-width="3.6"/>
<path d="M585.53 403.15A7.4 7.4 0 0 0 576.94 414.34" fill="none" stroke="#e00000" stroke-width="3.6"/>
<path d="M842.50 469.40A7.4 7.4 0 0 0 848.91 458.30" fill="none" stroke="#e00000" stroke-width="3.6"/>
<rect x="286.8" y="196.2" width="86.2" height="43.3" rx="2.5" fill="#f8f8fb" stroke="#b9b9b9" stroke-width="1"/>
<text x="294.1" y="226.1" font-size="21.5" fill="#1c1c1c">L No. <tspan fill="#0a7fd8" font-weight="bold">1</tspan></text>
<rect x="598.6" y="40.1" width="86.2" height="43.3" rx="2.5" fill="#f8f8fb" stroke="#b9b9b9" stroke-width="1"/>
<text x="605.9" y="70.0" font-size="21.5" fill="#1c1c1c">L No. <tspan fill="#0a7fd8" font-weight="bold">2</tspan></text>
<rect x="909.8" y="117.8" width="86.2" height="43.3" rx="2.5" fill="#f8f8fb" stroke="#b9b9b9" stroke-width="1"/>
<text x="917.1" y="147.7" font-size="21.5" fill="#1c1c1c">L No. <tspan fill="#0a7fd8" font-weight="bold">3</tspan></text>
<rect x="1026.8" y="338.8" width="86.2" height="43.3" rx="2.5" fill="#f8f8fb" stroke="#b9b9b9" stroke-width="1"/>
<text x="1034.1" y="368.7" font-size="21.5" fill="#1c1c1c">L No. <tspan fill="#0a7fd8" font-weight="bold">4</tspan></text>
<rect x="961.8" y="632.9" width="86.2" height="43.3" rx="2.5" fill="#f8f8fb" stroke="#b9b9b9" stroke-width="1"/>
<text x="969.1" y="662.8" font-size="21.5" fill="#1c1c1c">L No. <tspan fill="#0a7fd8" font-weight="bold">5</tspan></text>
<rect x="799.3" y="737.2" width="86.2" height="43.3" rx="2.5" fill="#f8f8fb" stroke="#b9b9b9" stroke-width="1"/>
<text x="806.6" y="767.1" font-size="21.5" fill="#1c1c1c">L No. <tspan fill="#0a7fd8" font-weight="bold">6</tspan></text>
<rect x="507.9" y="698.0" width="86.2" height="43.3" rx="2.5" fill="#f8f8fb" stroke="#b9b9b9" stroke-width="1"/>
<text x="515.2" y="727.9" font-size="21.5" fill="#1c1c1c">L No. <tspan fill="#0a7fd8" font-weight="bold">7</tspan></text>
<rect x="416.9" y="520.1" width="86.2" height="43.3" rx="2.5" fill="#f8f8fb" stroke="#b9b9b9" stroke-width="1"/>
<text x="424.2" y="550.0" font-size="21.5" fill="#1c1c1c">L No. <tspan fill="#0a7fd8" font-weight="bold">8</tspan></text>
<rect x="533.6" y="339.1" width="86.2" height="43.3" rx="2.5" fill="#f8f8fb" stroke="#b9b9b9" stroke-width="1"/>
<text x="540.9" y="369.0" font-size="21.5" fill="#1c1c1c">L No. <tspan fill="#0a7fd8" font-weight="bold">9</tspan></text>
<rect x="561.5" y="261.0" width="97.2" height="43.3" rx="2.5" fill="#f8f8fb" stroke="#b9b9b9" stroke-width="1"/>
<text x="568.8" y="290.9" font-size="21.5" fill="#1c1c1c">L No. <tspan fill="#0a7fd8" font-weight="bold">10</tspan></text>
<rect x="812.6" y="287.1" width="97.2" height="43.3" rx="2.5" fill="#f8f8fb" stroke="#b9b9b9" stroke-width="1"/>
<text x="819.9" y="317.0" font-size="21.5" fill="#1c1c1c">L No. <tspan fill="#0a7fd8" font-weight="bold">11</tspan></text>
<rect x="897.3" y="391.0" width="97.2" height="43.3" rx="2.5" fill="#f8f8fb" stroke="#b9b9b9" stroke-width="1"/>
<text x="904.6" y="420.9" font-size="21.5" fill="#1c1c1c">L No. <tspan fill="#0a7fd8" font-weight="bold">12</tspan></text>
<rect x="832.3" y="514.9" width="97.2" height="43.3" rx="2.5" fill="#f8f8fb" stroke="#b9b9b9" stroke-width="1"/>
<text x="839.6" y="544.8" font-size="21.5" fill="#1c1c1c">L No. <tspan fill="#0a7fd8" font-weight="bold">13</tspan></text>
<rect x="754.2" y="607.6" width="97.2" height="43.3" rx="2.5" fill="#f8f8fb" stroke="#b9b9b9" stroke-width="1"/>
<text x="761.5" y="637.5" font-size="21.5" fill="#1c1c1c">L No. <tspan fill="#0a7fd8" font-weight="bold">14</tspan></text>
<rect x="567.6" y="581.5" width="97.2" height="43.3" rx="2.5" fill="#f8f8fb" stroke="#b9b9b9" stroke-width="1"/>
<text x="574.9" y="611.4" font-size="21.5" fill="#1c1c1c">L No. <tspan fill="#0a7fd8" font-weight="bold">15</tspan></text>
<rect x="585.9" y="494.6" width="97.2" height="43.3" rx="2.5" fill="#f8f8fb" stroke="#b9b9b9" stroke-width="1"/>
<text x="593.2" y="524.5" font-size="21.5" fill="#1c1c1c">L No. <tspan fill="#0a7fd8" font-weight="bold">16</tspan></text>
<rect x="585.9" y="412.8" width="97.2" height="43.3" rx="2.5" fill="#f8f8fb" stroke="#b9b9b9" stroke-width="1"/>
<text x="593.2" y="442.7" font-size="21.5" fill="#1c1c1c">L No. <tspan fill="#0a7fd8" font-weight="bold">17</tspan></text>
<rect x="677.1" y="300.5" width="97.2" height="43.3" rx="2.5" fill="#f8f8fb" stroke="#b9b9b9" stroke-width="1"/>
<text x="684.4" y="330.4" font-size="21.5" fill="#1c1c1c">L No. <tspan fill="#0a7fd8" font-weight="bold">18</tspan></text>
<rect x="691.5" y="360.9" width="97.2" height="43.3" rx="2.5" fill="#f8f8fb" stroke="#b9b9b9" stroke-width="1"/>
<text x="698.8" y="390.8" font-size="21.5" fill="#1c1c1c">L No. <tspan fill="#0a7fd8" font-weight="bold">19</tspan></text>
<rect x="743.2" y="417.1" width="97.2" height="43.3" rx="2.5" fill="#f8f8fb" stroke="#b9b9b9" stroke-width="1"/>
<text x="750.5" y="447.0" font-size="21.5" fill="#1c1c1c">L No. <tspan fill="#0a7fd8" font-weight="bold">20</tspan></text>
<circle cx="285.1" cy="241.3" r="4.1" fill="#1a1a1a" stroke="#fbf8e8" stroke-width="1.7"/>
<circle cx="596.3" cy="85.6" r="4.1" fill="#1a1a1a" stroke="#fbf8e8" stroke-width="1.7"/>
<circle cx="907.5" cy="163.6" r="4.1" fill="#1a1a1a" stroke="#fbf8e8" stroke-width="1.7"/>
<circle cx="1024.2" cy="384.5" r="4.1" fill="#1a1a1a" stroke="#fbf8e8" stroke-width="1.7"/>
<circle cx="959.2" cy="630.7" r="4.1" fill="#1a1a1a" stroke="#fbf8e8" stroke-width="1.7"/>
<circle cx="797.3" cy="734.4" r="4.1" fill="#1a1a1a" stroke="#fbf8e8" stroke-width="1.7"/>
<circle cx="596.3" cy="695.8" r="4.1" fill="#1a1a1a" stroke="#fbf8e8" stroke-width="1.7"/>
<circle cx="505.8" cy="565.6" r="4.1" fill="#1a1a1a" stroke="#fbf8e8" stroke-width="1.7"/>
<circle cx="531.8" cy="384.6" r="4.1" fill="#1a1a1a" stroke="#fbf8e8" stroke-width="1.7"/>
<circle cx="661.4" cy="306.3" r="4.1" fill="#1a1a1a" stroke="#fbf8e8" stroke-width="1.7"/>
<circle cx="809.9" cy="332.7" r="4.1" fill="#1a1a1a" stroke="#fbf8e8" stroke-width="1.7"/>
<circle cx="894.3" cy="436.3" r="4.1" fill="#1a1a1a" stroke="#fbf8e8" stroke-width="1.7"/>
<circle cx="829.3" cy="559.6" r="4.1" fill="#1a1a1a" stroke="#fbf8e8" stroke-width="1.7"/>
<circle cx="751.5" cy="604.7" r="4.1" fill="#1a1a1a" stroke="#fbf8e8" stroke-width="1.7"/>
<circle cx="667.5" cy="578.8" r="4.1" fill="#1a1a1a" stroke="#fbf8e8" stroke-width="1.7"/>
<circle cx="583.0" cy="539.8" r="4.1" fill="#1a1a1a" stroke="#fbf8e8" stroke-width="1.7"/>
<circle cx="583.0" cy="410.1" r="4.1" fill="#1a1a1a" stroke="#fbf8e8" stroke-width="1.7"/>
<circle cx="674.0" cy="345.4" r="4.1" fill="#1a1a1a" stroke="#fbf8e8" stroke-width="1.7"/>
<circle cx="790.8" cy="358.2" r="4.1" fill="#1a1a1a" stroke="#fbf8e8" stroke-width="1.7"/>
<circle cx="842.5" cy="462.0" r="4.1" fill="#1a1a1a" stroke="#fbf8e8" stroke-width="1.7"/>
<path d="M129.3 20.75V799.5H1140.6" stroke="#5a5a5a" stroke-width="1.4" fill="none"/>
<path d="M233.0 799.5v-10M362.7 799.5v-10M492.3 799.5v-10M622.0 799.5v-10M751.6 799.5v-10M881.3 799.5v-10M1011.0 799.5v-10M1140.6 799.5v-10M129.3 799.2h10M129.3 669.5h10M129.3 539.8h10M129.3 410.0h10M129.3 280.2h10M129.3 150.5h10M129.3 20.8h10" stroke="#5a5a5a" stroke-width="1.4" fill="none"/>
<text x="234.0" y="842" font-size="32" text-anchor="middle" fill="#1a1a1a">3.0</text>
<text x="363.7" y="842" font-size="32" text-anchor="middle" fill="#1a1a1a">4.5</text>
<text x="493.3" y="842" font-size="32" text-anchor="middle" fill="#1a1a1a">6.0</text>
<text x="623.0" y="842" font-size="32" text-anchor="middle" fill="#1a1a1a">7.5</text>
<text x="752.6" y="842" font-size="32" text-anchor="middle" fill="#1a1a1a">9.0</text>
<text x="882.3" y="842" font-size="32" text-anchor="middle" fill="#1a1a1a">10.5</text>
<text x="1012.0" y="842" font-size="32" text-anchor="middle" fill="#1a1a1a">12.0</text>
<text x="1141.6" y="842" font-size="32" text-anchor="middle" fill="#1a1a1a">13.5</text>
<text x="75.2" y="812.2" font-size="34" textLength="43.8" lengthAdjust="spacingAndGlyphs" fill="#1a1a1a">4.5</text>
<text x="75.2" y="682.5" font-size="34" textLength="43.8" lengthAdjust="spacingAndGlyphs" fill="#1a1a1a">6.0</text>
<text x="75.2" y="552.8" font-size="34" textLength="43.8" lengthAdjust="spacingAndGlyphs" fill="#1a1a1a">7.5</text>
<text x="75.2" y="423.0" font-size="34" textLength="43.8" lengthAdjust="spacingAndGlyphs" fill="#1a1a1a">9.0</text>
<text x="57.7" y="293.2" font-size="34" textLength="61.3" lengthAdjust="spacingAndGlyphs" fill="#1a1a1a">10.5</text>
<text x="57.7" y="163.5" font-size="34" textLength="61.3" lengthAdjust="spacingAndGlyphs" fill="#1a1a1a">12.0</text>
<text x="57.7" y="33.8" font-size="34" textLength="61.3" lengthAdjust="spacingAndGlyphs" fill="#1a1a1a">13.5</text>
<text x="645" y="889" font-size="43" text-anchor="middle" fill="#1a1a1a">x [mm]</text>
<text transform="translate(42.4 410.5) rotate(-90)" x="0" y="0" font-size="43" text-anchor="middle" fill="#1a1a1a">z [mm]</text>
</svg></body></html>
